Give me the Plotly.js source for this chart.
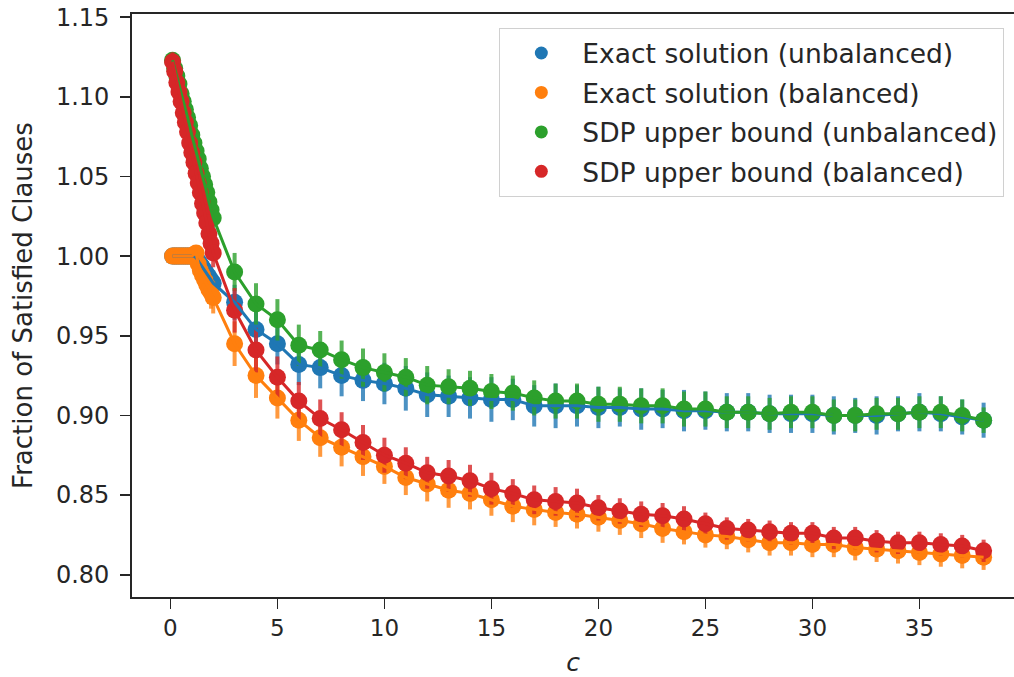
<!DOCTYPE html>
<html>
<head>
<meta charset="utf-8">
<script src="https://cdn.plot.ly/plotly-3.0.1.min.js"></script>
<style>
  html, body { margin: 0; padding: 0; background: #ffffff; }
  #chart { width: 1014px; height: 677px; }
</style>
</head>
<body>
<div id="chart"></div>
<script>
// ---- data ----
const cValues = [0.1, 0.2, 0.3, 0.4, 0.5, 0.6, 0.7, 0.8, 0.9, 1.0,
  1.1, 1.2, 1.3, 1.4, 1.5, 1.6, 1.7, 1.8, 1.9, 2.0,
  3, 4, 5, 6, 7, 8, 9, 10, 11, 12, 13, 14, 15, 16, 17, 18, 19, 20,
  21, 22, 23, 24, 25, 26, 27, 28, 29, 30, 31, 32, 33, 34, 35, 36, 37, 38];

const exactUnbalanced = [1.000, 1.000, 1.000, 1.000, 1.000, 1.000, 1.000, 1.000, 1.000, 1.000,
  1.000, 0.999, 0.997, 0.995, 0.993, 0.991, 0.989, 0.987, 0.985, 0.983,
  0.971, 0.954, 0.945, 0.932, 0.930, 0.925, 0.922, 0.920, 0.917, 0.913, 0.912, 0.911, 0.910, 0.910, 0.906, 0.906, 0.906, 0.905,
  0.905, 0.904, 0.904, 0.903, 0.903, 0.902, 0.902, 0.901, 0.901, 0.901, 0.900, 0.900, 0.900, 0.901, 0.902, 0.901, 0.899, 0.897];
const exactUnbalancedErr = [0.000, 0.000, 0.000, 0.003, 0.004, 0.004, 0.003, 0.002, 0.000, 0.000,
  0.002, 0.003, 0.004, 0.005, 0.006, 0.006, 0.007, 0.007, 0.008, 0.008,
  0.011, 0.012, 0.013, 0.013, 0.013, 0.013, 0.013, 0.013, 0.014, 0.014, 0.013, 0.013, 0.014, 0.013, 0.013, 0.014, 0.013, 0.013,
  0.012, 0.013, 0.012, 0.013, 0.012, 0.012, 0.012, 0.012, 0.012, 0.012, 0.012, 0.011, 0.012, 0.011, 0.012, 0.011, 0.011, 0.011];

const exactBalanced = [1.000, 1.000, 1.000, 1.000, 1.000, 1.000, 1.000, 1.000, 1.000, 1.000,
  1.001, 1.002, 0.995, 0.991, 0.988, 0.985, 0.982, 0.979, 0.977, 0.974,
  0.945, 0.925, 0.911, 0.897, 0.886, 0.880, 0.874, 0.868, 0.861, 0.857, 0.853, 0.851, 0.847, 0.843, 0.841, 0.839, 0.838, 0.836,
  0.834, 0.832, 0.829, 0.827, 0.825, 0.824, 0.822, 0.820, 0.820, 0.819, 0.819, 0.817, 0.816, 0.815, 0.814, 0.813, 0.812, 0.811];
const exactBalancedErr = [0.000, 0.000, 0.000, 0.000, 0.000, 0.000, 0.000, 0.000, 0.000, 0.000,
  0.003, 0.005, 0.006, 0.007, 0.008, 0.008, 0.009, 0.009, 0.010, 0.010,
  0.014, 0.014, 0.013, 0.013, 0.012, 0.012, 0.012, 0.011, 0.011, 0.011, 0.011, 0.010, 0.010, 0.010, 0.010, 0.009, 0.009, 0.009,
  0.009, 0.009, 0.009, 0.008, 0.008, 0.008, 0.008, 0.008, 0.008, 0.008, 0.008, 0.008, 0.008, 0.008, 0.008, 0.008, 0.008, 0.008];

const sdpUnbalanced = [1.123, 1.118, 1.113, 1.108, 1.102, 1.097, 1.092, 1.087, 1.082, 1.076,
  1.071, 1.066, 1.061, 1.055, 1.050, 1.045, 1.040, 1.034, 1.029, 1.024,
  0.990, 0.970, 0.960, 0.944, 0.941, 0.935, 0.930, 0.927, 0.924, 0.919, 0.918, 0.917, 0.915, 0.914, 0.911, 0.909, 0.909, 0.907,
  0.907, 0.906, 0.906, 0.904, 0.904, 0.902, 0.902, 0.901, 0.902, 0.902, 0.900, 0.900, 0.901, 0.901, 0.902, 0.902, 0.900, 0.897];
const sdpUnbalancedErr = [0.004, 0.004, 0.004, 0.004, 0.005, 0.005, 0.005, 0.005, 0.005, 0.005,
  0.006, 0.006, 0.006, 0.006, 0.007, 0.007, 0.007, 0.008, 0.008, 0.008,
  0.012, 0.013, 0.013, 0.013, 0.012, 0.012, 0.012, 0.012, 0.012, 0.012, 0.011, 0.011, 0.011, 0.011, 0.011, 0.011, 0.011, 0.011,
  0.011, 0.011, 0.011, 0.011, 0.011, 0.010, 0.010, 0.010, 0.010, 0.010, 0.010, 0.010, 0.010, 0.010, 0.010, 0.010, 0.010, 0.008];

const sdpBalanced = [1.122, 1.116, 1.109, 1.103, 1.097, 1.090, 1.084, 1.078, 1.071, 1.065,
  1.059, 1.052, 1.046, 1.040, 1.033, 1.027, 1.021, 1.014, 1.008, 1.002,
  0.966, 0.941, 0.924, 0.909, 0.898, 0.891, 0.883, 0.875, 0.870, 0.864, 0.862, 0.859, 0.854, 0.851, 0.847, 0.846, 0.845, 0.842,
  0.840, 0.838, 0.837, 0.835, 0.832, 0.829, 0.828, 0.827, 0.826, 0.826, 0.823, 0.823, 0.821, 0.820, 0.820, 0.819, 0.818, 0.815];
const sdpBalancedErr = [0.006, 0.009, 0.006, 0.006, 0.006, 0.006, 0.006, 0.006, 0.006, 0.006,
  0.007, 0.007, 0.007, 0.007, 0.008, 0.008, 0.008, 0.008, 0.009, 0.009,
  0.014, 0.014, 0.013, 0.012, 0.012, 0.011, 0.011, 0.011, 0.010, 0.010, 0.010, 0.010, 0.010, 0.009, 0.009, 0.009, 0.009, 0.008,
  0.008, 0.008, 0.008, 0.008, 0.007, 0.007, 0.007, 0.007, 0.007, 0.007, 0.007, 0.007, 0.007, 0.007, 0.007, 0.007, 0.007, 0.007];

const seriesNames = ["Exact solution (unbalanced)", "Exact solution (balanced)",
  "SDP upper bound (unbalanced)", "SDP upper bound (balanced)"];
const seriesColors = ["#1f77b4", "#ff7f0e", "#2ca02c", "#d62728"];
const seriesErrColors = ["rgba(31,119,180,0.8)", "rgba(255,127,14,0.8)", "rgba(44,160,44,0.8)", "rgba(214,39,40,0.8)"];

const xTickVals = [0, 5, 10, 15, 20, 25, 30, 35];
const xTickText = ["0", "5", "10", "15", "20", "25", "30", "35"];
const yTickVals = [0.80, 0.85, 0.90, 0.95, 1.00, 1.05, 1.10, 1.15];
const yTickText = ["0.80", "0.85", "0.90", "0.95", "1.00", "1.05", "1.10", "1.15"];

// ---- build traces ----
const ySeries = [exactUnbalanced, exactBalanced, sdpUnbalanced, sdpBalanced];
const eSeries = [exactUnbalancedErr, exactBalancedErr, sdpUnbalancedErr, sdpBalancedErr];

const traces = [];
// markers with error bars
for (let i = 0; i < 4; i++) {
  traces.push({
    type: "scatter", mode: "markers",
    x: cValues, y: ySeries[i],
    error_y: { type: "data", array: eSeries[i], visible: true,
               color: seriesErrColors[i], thickness: 4, width: 0 },
    marker: { color: seriesColors[i], size: 17, line: { width: 0 } },
    showlegend: false, hoverinfo: "x+y"
  });
}
// connecting lines on top
for (let i = 0; i < 4; i++) {
  traces.push({
    type: "scatter", mode: "lines",
    x: cValues, y: ySeries[i],
    line: { color: seriesColors[i], width: 3 },
    showlegend: false, hoverinfo: "skip"
  });
}
// legend entries (dot only)
for (let i = 0; i < 4; i++) {
  traces.push({
    type: "scatter", mode: "markers",
    x: [null], y: [null],
    name: seriesNames[i],
    legendgroup: "g" + i,
    marker: { color: seriesColors[i], size: 13 },
    showlegend: true
  });
}

const font = "DejaVu Sans, sans-serif";
const layout = {
  width: 1014, height: 677,
  margin: { l: 132, r: 0, t: 14, b: 80, pad: 0 },
  paper_bgcolor: "#ffffff", plot_bgcolor: "#ffffff",
  font: { family: font, size: 24, color: "#262626" },
  showlegend: true,
  xaxis: {
    range: [-1.795, 39.42],
    tickvals: xTickVals, ticktext: xTickText,
    ticks: "outside", ticklen: 10, tickwidth: 1.6, tickcolor: "#262626",
    showgrid: false, zeroline: false,
    showline: true, linecolor: "#262626", linewidth: 1.8, mirror: true,
    tickfont: { family: font, size: 23, color: "#262626" },
    title: { text: "<i>c</i>", font: { family: font, size: 25, color: "#262626" }, standoff: 15 }
  },
  yaxis: {
    range: [0.786, 1.152],
    tickvals: yTickVals, ticktext: yTickText,
    ticks: "outside", ticklen: 10, tickwidth: 1.6, tickcolor: "#262626",
    showgrid: false, zeroline: false,
    showline: true, linecolor: "#262626", linewidth: 1.8, mirror: false,
    ticklabelstandoff: 6,
    tickfont: { family: font, size: 24, color: "#262626" },
    title: { text: "Fraction of Satisfied Clauses", font: { family: font, size: 26, color: "#262626" }, standoff: 16 }
  },
  legend: {
    x: 0.9887, y: 0.976, xanchor: "right", yanchor: "top",
    bgcolor: "rgba(255,255,255,0.85)", bordercolor: "#d0d0d0", borderwidth: 1.3,
    font: { family: font, size: 26.5, color: "#262626" },
    traceorder: "grouped", tracegroupgap: 2, itemwidth: 72
  }
};

Plotly.newPlot("chart", traces, layout, { staticPlot: true, displayModeBar: false });
</script>
</body>
</html>
